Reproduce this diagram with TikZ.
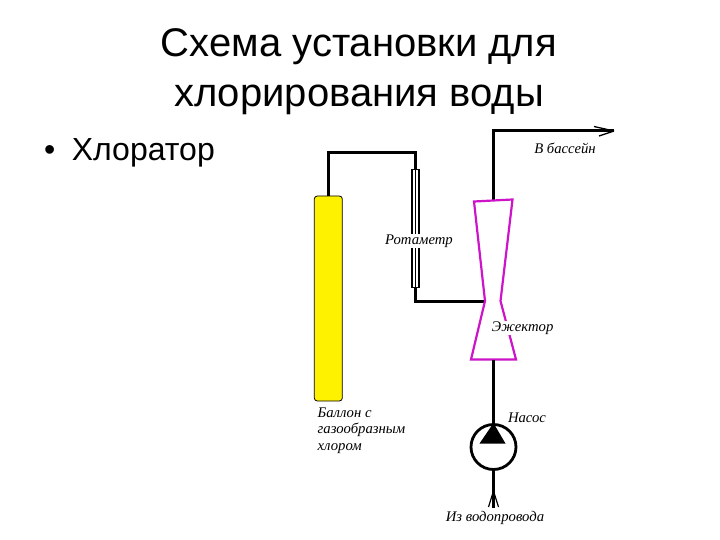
\documentclass[tikz,border=0pt]{standalone}
\usepackage{fontspec}
\setmainfont{Liberation Sans}
\newfontfamily\serifit[Scale=1]{Liberation Serif}
\usetikzlibrary{arrows.meta}
\definecolor{ejcol}{RGB}{205,20,200}
\tikzset{
 pipe/.style={draw=black,line width=3pt},
 thinbox/.style={draw=black,line width=1.6pt,fill=white},
 ejline/.style={draw=ejcol,line width=2.2pt,line join=miter},
 lab/.style={font=\serifit\itshape\fontsize{14.7}{16.5}\selectfont,text=black,inner sep=0.5pt,align=left},
 ttl/.style={font=\fontsize{40}{50}\selectfont,text=black,inner sep=0pt,align=center}
}
\begin{document}
\begin{tikzpicture}[x=1pt,y=-1pt]
\useasboundingbox (0,0) rectangle (720,540);
\fill[white] (0,0) rectangle (720,540);
% title
\node[ttl] (title) at (359,72) {Схема установки для\\хлорирования воды};
\node[anchor=west,font=\fontsize{32}{38}\selectfont,inner sep=0pt] (item) at (44,153) {•\hspace{16.5pt}Хлоратор};
% cylinder
\node[draw=black,line width=0.8pt,fill=yellow,rounded corners=3pt,minimum width=28pt,minimum height=205pt,inner sep=0pt] (cyl) at (328.3,298.5) {};
% coordinates
\coordinate (c1) at (328.3,153);
\coordinate (c2) at (415.5,153);
\coordinate (c3) at (415.5,301);
\coordinate (ejT) at (493.5,200.3);
\coordinate (ejTL) at (474,201.5);
\coordinate (ejTR) at (512.5,199.5);
\coordinate (ejML) at (485,301);
\coordinate (ejMR) at (500.5,301);
\coordinate (ejBL) at (471,359.5);
\coordinate (ejBR) at (516,359.5);
\coordinate (ejB) at (493.5,359.5);
\coordinate (c4) at (493.5,131);
\coordinate (out) at (614,131);
\coordinate (in) at (493.5,508);
% rotameter
\node[thinbox,minimum width=7.5pt,minimum height=118pt,inner sep=0pt] (rot) at (415.5,228.5) {};
\draw[line width=1.6pt] (rot.north) -- (rot.south);
% pipes
\draw[pipe] (cyl.north) -- (c1) -- (c2) -- (rot.north);
\draw[pipe] (rot.south) -- (c3) -- (ejML);
\draw[pipe] (ejT) -- (c4) -- (out);
\draw[line width=1.3pt] (out) -- (594,126.5);
\draw[line width=1.3pt] (out) -- (599,136);
% ejector
\draw[ejline] (ejML) -- (ejTL) -- (ejTR) -- (ejMR) -- (ejBR) -- (ejBL) -- cycle;
% pump
\node[draw=black,line width=2.8pt,circle,minimum size=45pt,inner sep=0pt] (pump) at (493.5,447) {};
\draw[pipe] (ejB) -- (pump.north);
\fill[black] (pump.north) -- (505.5,443.5) -- (479.5,443.5) -- cycle;
\draw[pipe] (pump.south) -- (in);
\draw[line width=1.2pt] (493.5,491) -- (488.5,507);
\draw[line width=1.2pt] (493.5,491) -- (498.5,507);
% labels
\node[lab,fill=white] (lrot) at (419,241) {Ротаметр};
\node[lab,fill=white] (lej) at (522.5,328) {Эжектор};
\node[lab] (lbas) at (565,148) {В бассейн};
\node[lab] (lnas) at (527,418) {Насос};
\node[lab,anchor=north west] (lbal) at (317,407) {Баллон с\\газообразным\\хлором};
\node[lab] (lvod) at (495,518) {Из водопровода};
\end{tikzpicture}
\end{document}
